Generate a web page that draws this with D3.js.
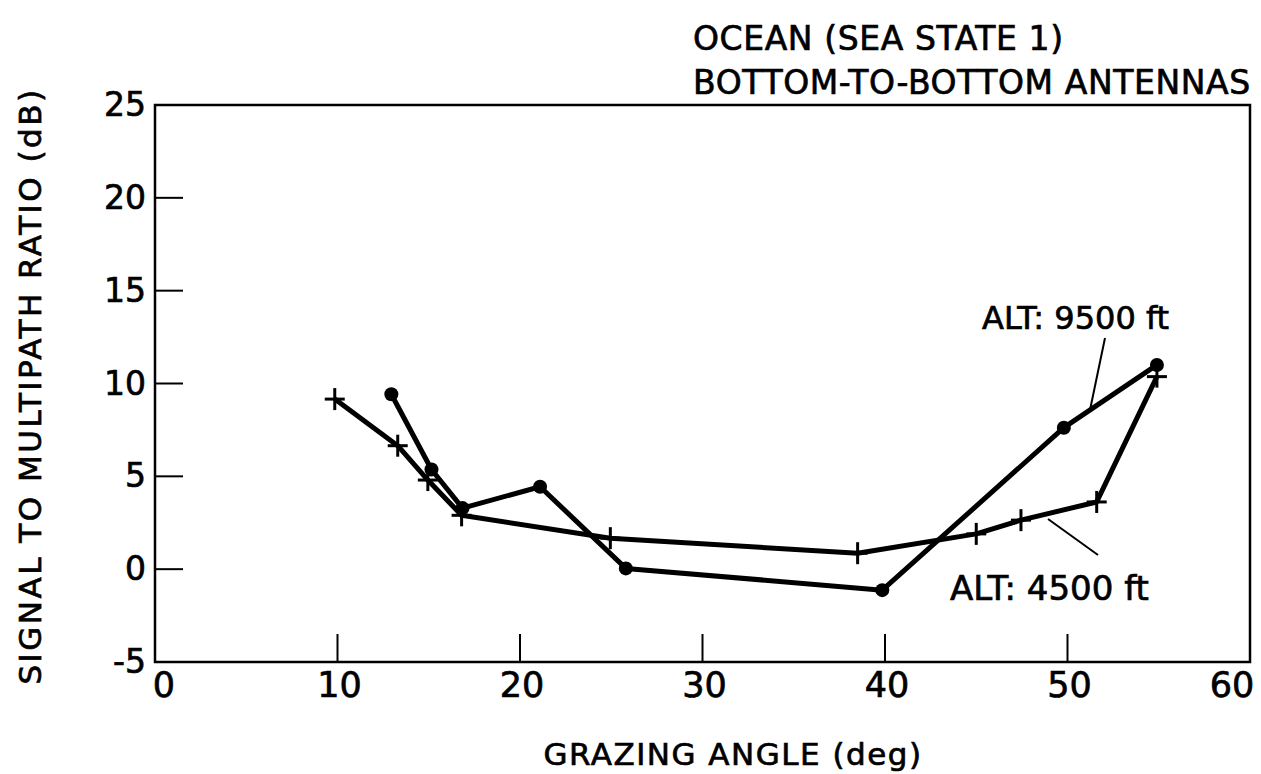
<!DOCTYPE html>
<html>
<head>
<meta charset="utf-8">
<script src="https://cdn.jsdelivr.net/npm/d3@7"></script>
<style>
  html, body { margin: 0; padding: 0; background: #fff; }
  svg { display: block; }
  text { font-family: "DejaVu Sans", sans-serif; fill: #000; stroke: #000; stroke-width: 0.7px; }
</style>
</head>
<body>
<svg id="chart" width="1261" height="774"></svg>
<script>
// ---- data ----
const alt9500X = [12.95, 15.15, 16.85, 21.1, 25.8, 39.85, 49.8, 54.9];
const alt9500Y = [9.42, 5.37, 3.29, 4.44, 0.04, -1.13, 7.62, 11.0];
const alt4500X = [9.85, 13.3, 14.95, 16.8, 24.95, 38.5, 45.0, 47.45, 51.6, 54.9];
const alt4500Y = [9.16, 6.65, 4.8, 2.9, 1.67, 0.86, 1.9, 2.64, 3.62, 10.37];
const xTicks = [0, 10, 20, 30, 40, 50, 60];
const yTicks = [-5, 0, 5, 10, 15, 20, 25];
const titleLines = ["OCEAN (SEA  STATE 1)", "BOTTOM-TO-BOTTOM ANTENNAS"];
const xTitle = "GRAZING ANGLE (deg)";
const yTitle = "SIGNAL  TO  MULTIPATH  RATIO (dB)";
const label9500 = "ALT:  9500 ft";
const label4500 = "ALT: 4500  ft";

const svg = d3.select("#chart");
const x = d3.scaleLinear().domain([0, 60]).range([155, 1250]);
const y = d3.scaleLinear().domain([-5, 25]).range([662, 105]);

// frame
svg.append("rect")
  .attr("x", x(0)).attr("y", y(25))
  .attr("width", x(60) - x(0)).attr("height", y(-5) - y(25))
  .attr("fill", "none").attr("stroke", "#000").attr("stroke-width", 2.5);

// inward ticks
const tickLen = 28;
svg.append("g").selectAll("line")
  .data(xTicks.filter(d => d > 0 && d < 60)).join("line")
  .attr("x1", d => x(d)).attr("x2", d => x(d))
  .attr("y1", y(-5)).attr("y2", y(-5) - tickLen)
  .attr("stroke", "#000").attr("stroke-width", 2);
svg.append("g").selectAll("line")
  .data(yTicks.filter(d => d > -5 && d < 25)).join("line")
  .attr("x1", x(0)).attr("x2", x(0) + tickLen)
  .attr("y1", d => y(d)).attr("y2", d => y(d))
  .attr("stroke", "#000").attr("stroke-width", 2);

// tick labels
svg.append("g").selectAll("text")
  .data(xTicks).join("text")
  .attr("x", d => x(d) + (d === 0 ? 9 : d === 60 ? -18 : 2))
  .attr("y", 697)
  .attr("text-anchor", "middle")
  .style("font-size", "35px")
  .text(d => d);
svg.append("g").selectAll("text")
  .data(yTicks).join("text")
  .attr("x", 146)
  .attr("y", d => y(d) + 11)
  .attr("text-anchor", "end")
  .style("font-size", "33px")
  .text(d => d);

// axis titles
svg.append("text")
  .attr("x", 733).attr("y", 765)
  .attr("text-anchor", "middle")
  .style("font-size", "31px")
  .style("letter-spacing", "1.5px")
  .text(xTitle);
svg.append("text")
  .attr("transform", "translate(41,386) rotate(-90)")
  .attr("text-anchor", "middle")
  .style("font-size", "31px")
  .style("letter-spacing", "2.5px")
  .text(yTitle);

// title
svg.append("g").selectAll("text")
  .data(titleLines).join("text")
  .attr("x", 693)
  .attr("y", (d, i) => 50 + i * 44)
  .style("font-size", "33px")
  .style("letter-spacing", "0.6px")
  .text(d => d);

// series
const line = d3.line().x(d => x(d[0])).y(d => y(d[1]));
const s9500 = alt9500X.map((v, i) => [v, alt9500Y[i]]);
const s4500 = alt4500X.map((v, i) => [v, alt4500Y[i]]);

svg.append("path").datum(s4500)
  .attr("d", line).attr("fill", "none")
  .attr("stroke", "#000").attr("stroke-width", 5).attr("stroke-linejoin", "round");
svg.append("path").datum(s9500)
  .attr("d", line).attr("fill", "none")
  .attr("stroke", "#000").attr("stroke-width", 5).attr("stroke-linejoin", "round");

svg.append("g").selectAll("circle")
  .data(s9500).join("circle")
  .attr("cx", d => x(d[0])).attr("cy", d => y(d[1]))
  .attr("r", 7).attr("fill", "#000");

const cross = svg.append("g").selectAll("g")
  .data(s4500).join("g")
  .attr("transform", d => `translate(${x(d[0])},${y(d[1])})`);
cross.append("line").attr("x1", -10).attr("x2", 10).attr("y1", 0).attr("y2", 0)
  .attr("stroke", "#000").attr("stroke-width", 3);
cross.append("line").attr("x1", 0).attr("x2", 0).attr("y1", -11).attr("y2", 11)
  .attr("stroke", "#000").attr("stroke-width", 3);

// annotations
svg.append("text").attr("x", 982).attr("y", 329)
  .style("font-size", "32px").text(label9500);
svg.append("line")
  .attr("x1", 1105).attr("y1", 338).attr("x2", 1090).attr("y2", 410)
  .attr("stroke", "#000").attr("stroke-width", 2);
svg.append("text").attr("x", 950).attr("y", 600)
  .style("font-size", "34px").text(label4500);
svg.append("line")
  .attr("x1", 1048).attr("y1", 519).attr("x2", 1098).attr("y2", 555)
  .attr("stroke", "#000").attr("stroke-width", 2);
</script>
</body>
</html>
